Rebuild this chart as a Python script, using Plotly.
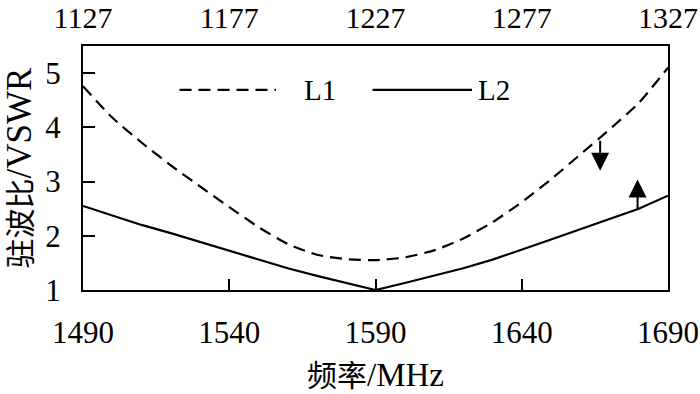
import plotly.graph_objects as go

freq = [1490, 1500, 1510, 1520, 1530, 1540, 1550, 1560, 1570, 1580, 1590,
        1600, 1610, 1620, 1630, 1640, 1650, 1660, 1670, 1680, 1690]
vswr_L1 = [4.76, 4.18, 3.72, 3.30, 2.91, 2.53, 2.16, 1.85, 1.65, 1.57, 1.55,
           1.60, 1.73, 1.95, 2.25, 2.62, 3.04, 3.50, 3.96, 4.45, 5.10]
vswr_L2 = [2.55, 2.37, 2.20, 2.05, 1.89, 1.73, 1.56, 1.40, 1.26, 1.13, 1.00,
           1.13, 1.26, 1.40, 1.56, 1.74, 1.93, 2.12, 2.31, 2.50, 2.74]

bottom_ticks = [1490, 1540, 1590, 1640, 1690]
top_ticks = [1127, 1177, 1227, 1277, 1327]
y_ticks = [1, 2, 3, 4, 5]

# arrows: (freq, start value, end value)
arrow_down = (1666.8, 3.78, 3.20)
arrow_up = (1679.6, 2.47, 3.04)

FONT = "'Liberation Serif', 'Times New Roman', 'Noto Sans CJK SC', serif"

fig = go.Figure()
fig.add_trace(go.Scatter(x=freq, y=vswr_L1, mode="lines", name="L1",
                         line=dict(color="black", width=2.2, dash="12px,7px", shape="spline", smoothing=0.6),
                         showlegend=False))
fig.add_trace(go.Scatter(x=freq, y=vswr_L2, mode="lines", name="L2",
                         line=dict(color="black", width=2.2),
                         showlegend=False))
# invisible trace to activate the top axis
fig.add_trace(go.Scatter(x=[top_ticks[0], top_ticks[-1]], y=[None, None], xaxis="x2",
                         mode="lines", showlegend=False, hoverinfo="skip"))

# custom legend
fig.add_shape(type="line", x0=1523, x1=1556, y0=4.69, y1=4.69, xref="x", yref="y",
              line=dict(color="black", width=2.2, dash="12px,7px"))
fig.add_shape(type="line", x0=1589, x1=1623, y0=4.69, y1=4.69, xref="x", yref="y",
              line=dict(color="black", width=2.2))
fig.add_annotation(x=1565, y=4.69, xref="x", yref="y", text="L1", showarrow=False,
                   xanchor="left", yanchor="middle", font=dict(size=29, color="black", family=FONT))
fig.add_annotation(x=1624.5, y=4.69, xref="x", yref="y", text="L2", showarrow=False,
                   xanchor="left", yanchor="middle", font=dict(size=29, color="black", family=FONT))

for (f, v0, v1) in [arrow_down, arrow_up]:
    fig.add_annotation(x=f, y=v1, ax=f, ay=v0, xref="x", yref="y", axref="x", ayref="y",
                       text="", showarrow=True, arrowhead=2, arrowsize=1.8, arrowwidth=2,
                       arrowcolor="black", standoff=0, startstandoff=0)

fig.update_layout(
    width=700, height=394,
    margin=dict(l=83, r=32, t=46, b=104, autoexpand=False),
    paper_bgcolor="white", plot_bgcolor="white",
    font=dict(family=FONT, size=30, color="black"),
    xaxis=dict(range=[1490, 1690], tickvals=bottom_ticks, ticktext=[str(t) for t in bottom_ticks],
               showline=True, linecolor="black", linewidth=2, mirror=True,
               ticks="inside", ticklen=11, tickwidth=2, tickcolor="black",
               showgrid=False, zeroline=False, ticklabelstandoff=14, automargin=False,
               tickfont=dict(size=31),
               title=dict(text="<span style='font-size:30px'>频率</span>/MHz", standoff=14,
                          font=dict(size=33))),
    xaxis2=dict(range=[1127, 1327], tickvals=top_ticks, ticktext=[str(t) for t in top_ticks],
                overlaying="x", side="top", showline=False, ticks="",
                showgrid=False, zeroline=False, ticklabelstandoff=11, automargin=False,
                tickfont=dict(size=30)),
    yaxis=dict(range=[1, 5.5], tickvals=y_ticks, ticktext=[str(t) for t in y_ticks],
               showline=True, linecolor="black", linewidth=2, mirror=True,
               ticks="inside", ticklen=12, tickwidth=2, tickcolor="black",
               showgrid=False, zeroline=False, ticklabelstandoff=14, automargin=False,
               tickfont=dict(size=31),
               title=dict(text="<span style='font-size:30px'>驻波比</span>/VSWR", standoff=18,
                          font=dict(size=35))),
)

fig.write_html("out.html", config={"displayModeBar": False},
               post_script="document.body.style.margin='0';document.body.style.padding='0';")
